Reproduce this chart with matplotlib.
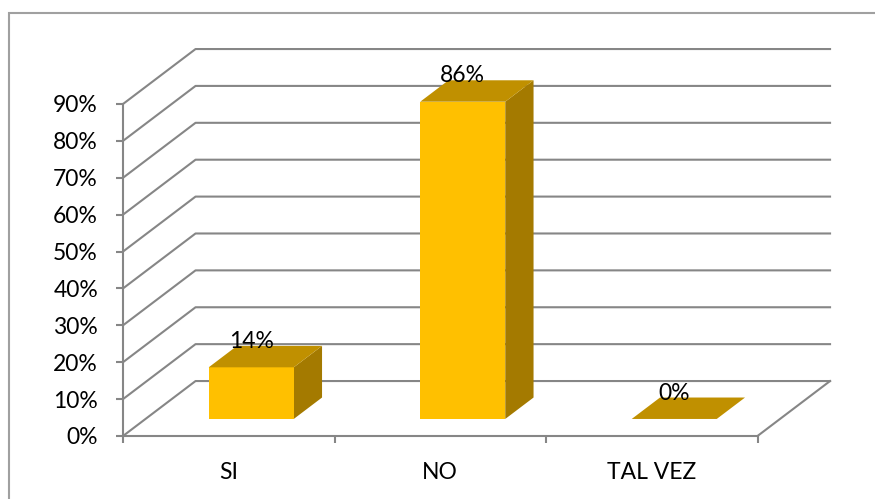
import matplotlib
matplotlib.use("Agg")
import matplotlib.pyplot as plt
from matplotlib.patches import Polygon, Rectangle

# datos del grafico
categorias = ['SI', 'NO', 'TAL VEZ']
valores = [0.14, 0.86, 0.0]
etiquetas = ['14%', '86%', '0%']
niveles = [0.0, 0.1, 0.2, 0.3, 0.4, 0.5, 0.6, 0.7, 0.8, 0.9]

plt.rcParams['font.family'] = ['Lato', 'DejaVu Sans']

GRIS = '#868686'
FRENTE = '#FFC000'
ARRIBA = '#C09000'
LADO = '#A47A00'
TAM = 16.5

# profundidad del "3D" en unidades de datos
DX = 0.343
DY = 0.149
ANCHO = 0.402
F0 = 0.31   # inicio de la barra en profundidad
F1 = 0.70   # fin de la barra en profundidad


def main():
    fig = plt.figure(figsize=(8.75, 4.99), dpi=100)
    W, H = 875, 499
    ax = fig.add_axes([123 / W, (H - 436) / H, (757.5 - 123) / W, 332 / H])
    ax.set_xlim(-0.5, 2.5)
    ax.set_ylim(0, 0.9)

    # borde exterior
    fig.add_artist(Rectangle((9 / W, -0.1), 1.2, 1 - 13 / H + 0.1,
                             transform=fig.transFigure, fill=False,
                             edgecolor='#a0a0a0', linewidth=1.5))

    # rejilla (pared del fondo + diagonales)
    for v in niveles:
        ax.plot([-0.5, -0.5 + DX, 2.5 + DX], [v, v + DY, v + DY],
                color=GRIS, linewidth=1.5, clip_on=False, zorder=1)
    # piso lado derecho
    ax.plot([2.5, 2.5 + DX], [0, DY], color=GRIS, linewidth=1.5,
            clip_on=False, zorder=1)

    ddx = (F1 - F0) * DX
    ddy = (F1 - F0) * DY
    for i, (v, lab) in enumerate(zip(valores, etiquetas)):
        x0 = i - ANCHO / 2 + F0 * DX
        x1 = i + ANCHO / 2 + F0 * DX
        y0 = F0 * DY
        y1 = y0 + v
        if v > 0:
            ax.add_patch(Polygon([(x1, y0), (x1 + ddx, y0 + ddy),
                                  (x1 + ddx, y1 + ddy), (x1, y1)],
                                 closed=True, facecolor=LADO, edgecolor='none',
                                 clip_on=False, zorder=3))
            ax.add_patch(Rectangle((x0, y0), x1 - x0, v, facecolor=FRENTE,
                                   edgecolor='none', clip_on=False, zorder=3))
        ax.add_patch(Polygon([(x0, y1), (x1, y1), (x1 + ddx, y1 + ddy),
                              (x0 + ddx, y1 + ddy)],
                             closed=True, facecolor=ARRIBA, edgecolor='none',
                             clip_on=False, zorder=3))
        ax.text((x0 + x1) / 2, y1 + ddy - 0.006, lab, ha='center',
                va='baseline', fontsize=TAM, color='black', zorder=4)

    # ejes
    for s in ['top', 'right']:
        ax.spines[s].set_visible(False)
    for s in ['left', 'bottom']:
        ax.spines[s].set_color(GRIS)
        ax.spines[s].set_linewidth(1.5)
        ax.spines[s].set_zorder(2)

    ax.set_yticks(niveles)
    ax.set_yticklabels([f'{int(round(v * 100))}%' for v in niveles])
    ax.tick_params(axis='y', length=5, width=1.5, color=GRIS, pad=13,
                   labelsize=TAM)

    ax.set_xticks([-0.5, 0.5, 1.5, 2.5])
    ax.set_xticklabels([])
    ax.tick_params(axis='x', which='major', length=5, width=1.5, color=GRIS)
    ax.set_xticks([0, 1, 2], minor=True)
    ax.set_xticklabels(categorias, minor=True)
    ax.tick_params(axis='x', which='minor', length=0, pad=19, labelsize=TAM)
    ax.patch.set_visible(False)

    fig.savefig('out.png', dpi=100)


if __name__ == "__main__":
    main()
